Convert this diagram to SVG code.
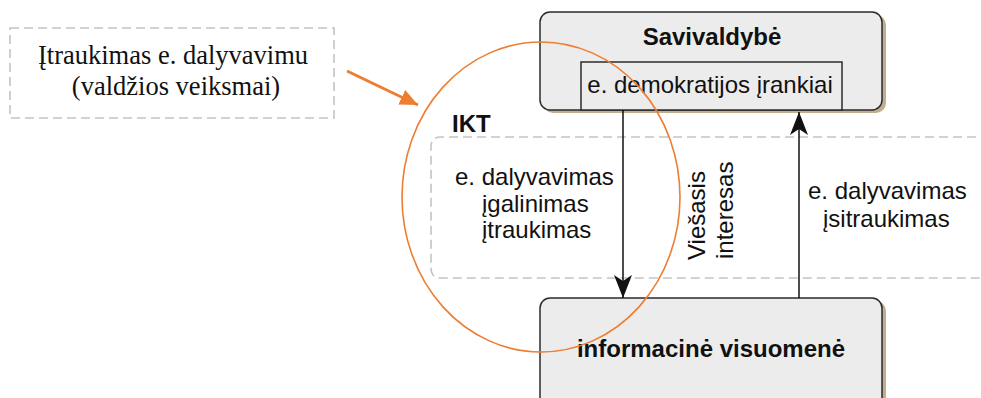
<svg xmlns="http://www.w3.org/2000/svg" width="981" height="398" viewBox="0 0 981 398">
<style>
.box{fill:#ececec;stroke:#2b2b2b;stroke-width:1.5}
.shadow{fill:#bfae90}
.sans{font-family:"Liberation Sans",Arial,sans-serif;font-size:24px;fill:#111}
.bold{font-weight:bold}
.serif{font-family:"Liberation Serif","Times New Roman",serif;font-size:26.5px;fill:#111}
.dash{fill:none;stroke:#c4c4c4;stroke-width:1.6;stroke-dasharray:9 5}
.conn{stroke:#111;stroke-width:1.5;fill:none}
.orange{stroke:#ed7d31;fill:none}
</style>
<defs>
<marker id="ah" viewBox="0 0 23 18" refX="23" refY="9" markerWidth="23" markerHeight="18" markerUnits="userSpaceOnUse" orient="auto">
<path d="M0,0 L23,9 L0,18 L6,9 z" fill="#111"/>
</marker>
<marker id="oh" viewBox="0 0 18 16" refX="18" refY="8" markerWidth="18" markerHeight="16" markerUnits="userSpaceOnUse" orient="auto">
<path d="M0,0 L18,8 L0,16 z" fill="#ed7d31"/>
</marker>
</defs>

<g id="note">
<rect class="dash" x="10" y="28" width="324" height="90"/>
<text class="serif" x="173" y="64" text-anchor="middle">Įtraukimas e. dalyvavimu</text>
<text class="serif" x="176" y="95" text-anchor="middle">(valdžios veiksmai)</text>
</g>

<g id="ikt">
<path class="dash" d="M990,137 H441 Q431,137 431,147 V268 Q431,278 441,278 H990"/>
<text class="sans bold" x="452" y="132">IKT</text>
<text class="sans" x="455" y="185">e. dalyvavimas</text>
<text class="sans" x="482" y="212">įgalinimas</text>
<text class="sans" x="482" y="238">įtraukimas</text>
</g>

<g id="savivaldybe">
<rect class="shadow" x="543" y="15" width="343" height="98" rx="10"/>
<rect class="box" x="540" y="12" width="342" height="98" rx="10"/>
<text class="sans bold" x="712" y="45" text-anchor="middle">Savivaldybė</text>
</g>

<g id="irankiai">
<rect class="box" x="581" y="62" width="261" height="48"/>
<text class="sans" x="710" y="93" text-anchor="middle">e. demokratijos įrankiai</text>
</g>

<g id="visuomene">
<rect class="shadow" x="543" y="301" width="343" height="110" rx="10"/>
<rect class="box" x="540" y="298" width="342" height="110" rx="10"/>
<text class="sans bold" x="711" y="357" text-anchor="middle">informacinė visuomenė</text>
</g>

<g id="connectors">
<line class="conn" x1="623" y1="110" x2="623" y2="298" marker-end="url(#ah)"/>
<line class="conn" x1="799" y1="298" x2="799" y2="112" marker-end="url(#ah)"/>
<line class="orange" stroke-width="3" x1="347" y1="71" x2="418" y2="105" marker-end="url(#oh)"/>
</g>

<g id="labels">
<text class="sans" transform="translate(705,260) rotate(-90)">Viešasis</text>
<text class="sans" transform="translate(733,259) rotate(-90)">interesas</text>
<text class="sans" x="808" y="199">e. dalyvavimas</text>
<text class="sans" x="823" y="227">įsitraukimas</text>
</g>

<g id="highlight">
<ellipse class="orange" stroke-width="1.6" cx="541" cy="197" rx="139" ry="155"/>
</g>
</svg>
